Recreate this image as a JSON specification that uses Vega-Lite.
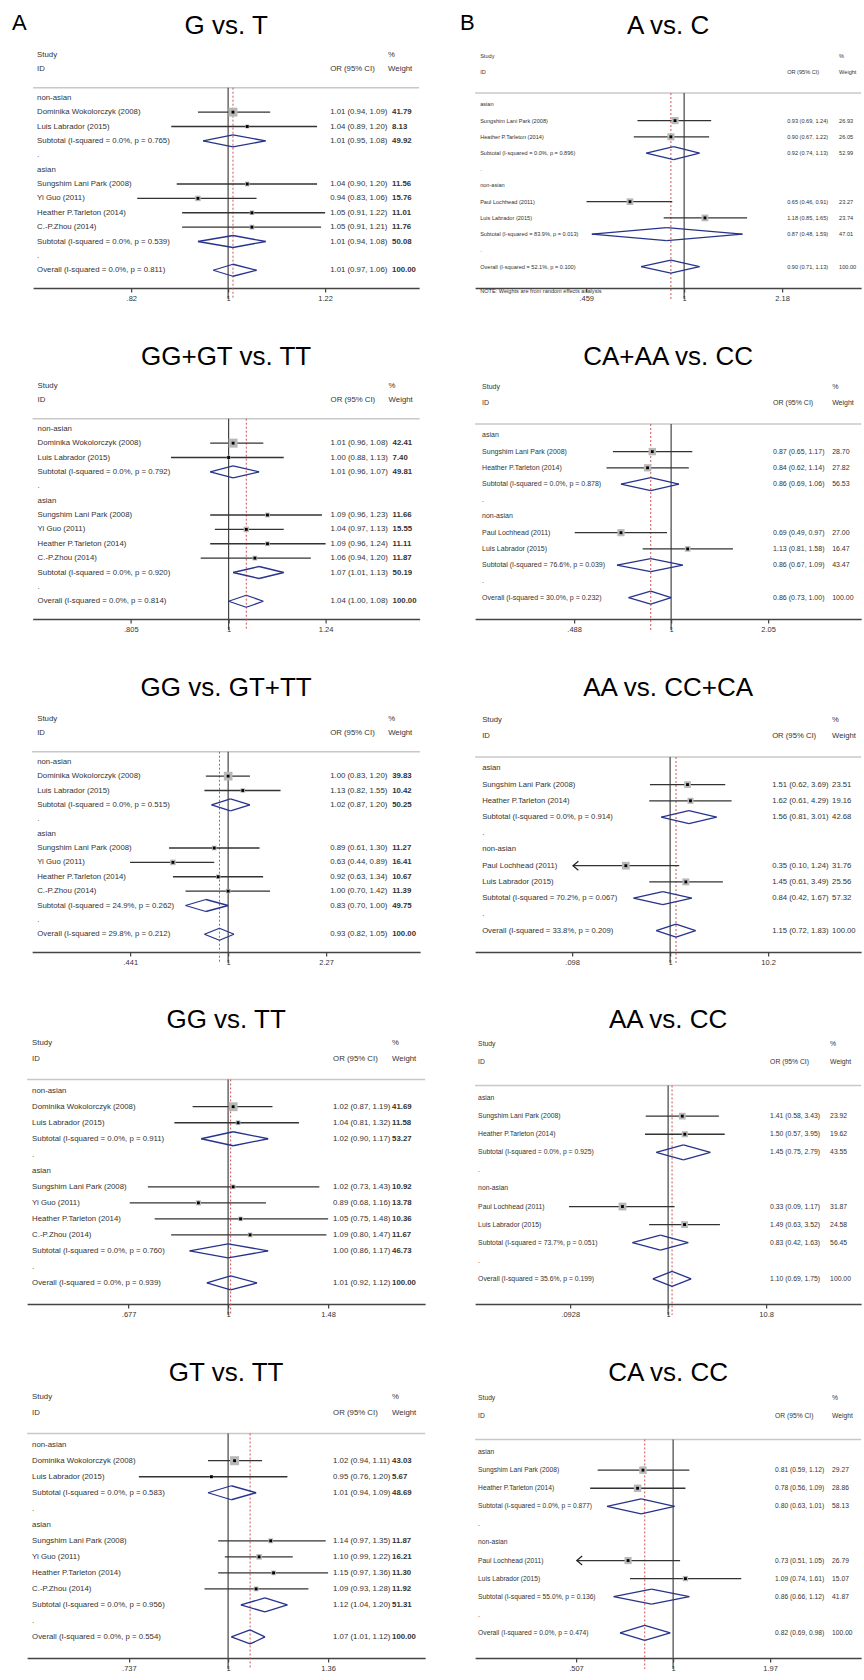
{
"$schema":"https://vega.github.io/schema/vega-lite/v6.json",
"padding":{"left":12,"top":11,"right":0,"bottom":0},
"background":"white",
"datasets":{"d":[
{"p":"A1","r":-2,"n":"Study","wh":"%"},
{"p":"A1","r":-1,"n":"ID","ci":"OR (95% CI)","wh":"Weight"},
{"p":"A1","r":1,"n":"non-asian"},
{"p":"A1","r":2,"t":"s","n":"Dominika Wokolorczyk (2008)","or":1.01,"lo":0.94,"hi":1.09,"w":41.79,"ci":"1.01 (0.94, 1.09)"},
{"p":"A1","r":3,"t":"s","n":"Luis Labrador (2015)","or":1.04,"lo":0.89,"hi":1.20,"w":8.13,"ci":"1.04 (0.89, 1.20)"},
{"p":"A1","r":4,"t":"d","n":"Subtotal  (I-squared = 0.0%, p = 0.765)","or":1.01,"lo":0.95,"hi":1.08,"w":49.92,"ci":"1.01 (0.95, 1.08)"},
{"p":"A1","r":5,"n":"."},
{"p":"A1","r":6,"n":"asian"},
{"p":"A1","r":7,"t":"s","n":"Sungshim Lani Park (2008)","or":1.04,"lo":0.90,"hi":1.20,"w":11.56,"ci":"1.04 (0.90, 1.20)"},
{"p":"A1","r":8,"t":"s","n":"Yi Guo (2011)","or":0.94,"lo":0.83,"hi":1.06,"w":15.76,"ci":"0.94 (0.83, 1.06)"},
{"p":"A1","r":9,"t":"s","n":"Heather P.Tarleton (2014)","or":1.05,"lo":0.91,"hi":1.22,"w":11.01,"ci":"1.05 (0.91, 1.22)"},
{"p":"A1","r":10,"t":"s","n":"C.-P.Zhou (2014)","or":1.05,"lo":0.91,"hi":1.21,"w":11.76,"ci":"1.05 (0.91, 1.21)"},
{"p":"A1","r":11,"t":"d","n":"Subtotal  (I-squared = 0.0%, p = 0.539)","or":1.01,"lo":0.94,"hi":1.08,"w":50.08,"ci":"1.01 (0.94, 1.08)"},
{"p":"A1","r":12,"n":"."},
{"p":"A1","r":13,"t":"o","n":"Overall  (I-squared = 0.0%, p = 0.811)","or":1.01,"lo":0.97,"hi":1.06,"w":100,"ci":"1.01 (0.97, 1.06)"},

{"p":"A2","r":-2,"n":"Study","wh":"%"},
{"p":"A2","r":-1,"n":"ID","ci":"OR (95% CI)","wh":"Weight"},
{"p":"A2","r":1,"n":"non-asian"},
{"p":"A2","r":2,"t":"s","n":"Dominika Wokolorczyk (2008)","or":1.01,"lo":0.96,"hi":1.08,"w":42.41,"ci":"1.01 (0.96, 1.08)"},
{"p":"A2","r":3,"t":"s","n":"Luis Labrador (2015)","or":1.00,"lo":0.88,"hi":1.13,"w":7.40,"ci":"1.00 (0.88, 1.13)"},
{"p":"A2","r":4,"t":"d","n":"Subtotal  (I-squared = 0.0%, p = 0.792)","or":1.01,"lo":0.96,"hi":1.07,"w":49.81,"ci":"1.01 (0.96, 1.07)"},
{"p":"A2","r":5,"n":"."},
{"p":"A2","r":6,"n":"asian"},
{"p":"A2","r":7,"t":"s","n":"Sungshim Lani Park (2008)","or":1.09,"lo":0.96,"hi":1.23,"w":11.66,"ci":"1.09 (0.96, 1.23)"},
{"p":"A2","r":8,"t":"s","n":"Yi Guo (2011)","or":1.04,"lo":0.97,"hi":1.13,"w":15.55,"ci":"1.04 (0.97, 1.13)"},
{"p":"A2","r":9,"t":"s","n":"Heather P.Tarleton (2014)","or":1.09,"lo":0.96,"hi":1.24,"w":11.11,"ci":"1.09 (0.96, 1.24)"},
{"p":"A2","r":10,"t":"s","n":"C.-P.Zhou (2014)","or":1.06,"lo":0.94,"hi":1.20,"w":11.87,"ci":"1.06 (0.94, 1.20)"},
{"p":"A2","r":11,"t":"d","n":"Subtotal  (I-squared = 0.0%, p = 0.920)","or":1.07,"lo":1.01,"hi":1.13,"w":50.19,"ci":"1.07 (1.01, 1.13)"},
{"p":"A2","r":12,"n":"."},
{"p":"A2","r":13,"t":"o","n":"Overall  (I-squared = 0.0%, p = 0.814)","or":1.04,"lo":1.00,"hi":1.08,"w":100,"ci":"1.04 (1.00, 1.08)"},

{"p":"A3","r":-2,"n":"Study","wh":"%"},
{"p":"A3","r":-1,"n":"ID","ci":"OR (95% CI)","wh":"Weight"},
{"p":"A3","r":1,"n":"non-asian"},
{"p":"A3","r":2,"t":"s","n":"Dominika Wokolorczyk (2008)","or":1.00,"lo":0.83,"hi":1.20,"w":39.83,"ci":"1.00 (0.83, 1.20)"},
{"p":"A3","r":3,"t":"s","n":"Luis Labrador (2015)","or":1.13,"lo":0.82,"hi":1.55,"w":10.42,"ci":"1.13 (0.82, 1.55)"},
{"p":"A3","r":4,"t":"d","n":"Subtotal  (I-squared = 0.0%, p = 0.515)","or":1.02,"lo":0.87,"hi":1.20,"w":50.25,"ci":"1.02 (0.87, 1.20)"},
{"p":"A3","r":5,"n":"."},
{"p":"A3","r":6,"n":"asian"},
{"p":"A3","r":7,"t":"s","n":"Sungshim Lani Park (2008)","or":0.89,"lo":0.61,"hi":1.30,"w":11.27,"ci":"0.89 (0.61, 1.30)"},
{"p":"A3","r":8,"t":"s","n":"Yi Guo (2011)","or":0.63,"lo":0.44,"hi":0.89,"w":16.41,"ci":"0.63 (0.44, 0.89)"},
{"p":"A3","r":9,"t":"s","n":"Heather P.Tarleton (2014)","or":0.92,"lo":0.63,"hi":1.34,"w":10.67,"ci":"0.92 (0.63, 1.34)"},
{"p":"A3","r":10,"t":"s","n":"C.-P.Zhou (2014)","or":1.00,"lo":0.70,"hi":1.42,"w":11.39,"ci":"1.00 (0.70, 1.42)"},
{"p":"A3","r":11,"t":"d","n":"Subtotal  (I-squared = 24.9%, p = 0.262)","or":0.83,"lo":0.70,"hi":1.00,"w":49.75,"ci":"0.83 (0.70, 1.00)"},
{"p":"A3","r":12,"n":"."},
{"p":"A3","r":13,"t":"o","n":"Overall  (I-squared = 29.8%, p = 0.212)","or":0.93,"lo":0.82,"hi":1.05,"w":100,"ci":"0.93 (0.82, 1.05)"},

{"p":"A4","r":-2,"n":"Study","wh":"%"},
{"p":"A4","r":-1,"n":"ID","ci":"OR (95% CI)","wh":"Weight"},
{"p":"A4","r":1,"n":"non-asian"},
{"p":"A4","r":2,"t":"s","n":"Dominika Wokolorczyk (2008)","or":1.02,"lo":0.87,"hi":1.19,"w":41.69,"ci":"1.02 (0.87, 1.19)"},
{"p":"A4","r":3,"t":"s","n":"Luis Labrador (2015)","or":1.04,"lo":0.81,"hi":1.32,"w":11.58,"ci":"1.04 (0.81, 1.32)"},
{"p":"A4","r":4,"t":"d","n":"Subtotal  (I-squared = 0.0%, p = 0.911)","or":1.02,"lo":0.90,"hi":1.17,"w":53.27,"ci":"1.02 (0.90, 1.17)"},
{"p":"A4","r":5,"n":"."},
{"p":"A4","r":6,"n":"asian"},
{"p":"A4","r":7,"t":"s","n":"Sungshim Lani Park (2008)","or":1.02,"lo":0.73,"hi":1.43,"w":10.92,"ci":"1.02 (0.73, 1.43)"},
{"p":"A4","r":8,"t":"s","n":"Yi Guo (2011)","or":0.89,"lo":0.68,"hi":1.16,"w":13.78,"ci":"0.89 (0.68, 1.16)"},
{"p":"A4","r":9,"t":"s","n":"Heather P.Tarleton (2014)","or":1.05,"lo":0.75,"hi":1.48,"w":10.36,"ci":"1.05 (0.75, 1.48)"},
{"p":"A4","r":10,"t":"s","n":"C.-P.Zhou (2014)","or":1.09,"lo":0.80,"hi":1.47,"w":11.67,"ci":"1.09 (0.80, 1.47)"},
{"p":"A4","r":11,"t":"d","n":"Subtotal  (I-squared = 0.0%, p = 0.760)","or":1.00,"lo":0.86,"hi":1.17,"w":46.73,"ci":"1.00 (0.86, 1.17)"},
{"p":"A4","r":12,"n":"."},
{"p":"A4","r":13,"t":"o","n":"Overall  (I-squared = 0.0%, p = 0.939)","or":1.01,"lo":0.92,"hi":1.12,"w":100,"ci":"1.01 (0.92, 1.12)"},

{"p":"A5","r":-2,"n":"Study","wh":"%"},
{"p":"A5","r":-1,"n":"ID","ci":"OR (95% CI)","wh":"Weight"},
{"p":"A5","r":1,"n":"non-asian"},
{"p":"A5","r":2,"t":"s","n":"Dominika Wokolorczyk (2008)","or":1.02,"lo":0.94,"hi":1.11,"w":43.03,"ci":"1.02 (0.94, 1.11)"},
{"p":"A5","r":3,"t":"s","n":"Luis Labrador (2015)","or":0.95,"lo":0.76,"hi":1.20,"w":5.67,"ci":"0.95 (0.76, 1.20)"},
{"p":"A5","r":4,"t":"d","n":"Subtotal  (I-squared = 0.0%, p = 0.583)","or":1.01,"lo":0.94,"hi":1.09,"w":48.69,"ci":"1.01 (0.94, 1.09)"},
{"p":"A5","r":5,"n":"."},
{"p":"A5","r":6,"n":"asian"},
{"p":"A5","r":7,"t":"s","n":"Sungshim Lani Park (2008)","or":1.14,"lo":0.97,"hi":1.35,"w":11.87,"ci":"1.14 (0.97, 1.35)"},
{"p":"A5","r":8,"t":"s","n":"Yi Guo (2011)","or":1.10,"lo":0.99,"hi":1.22,"w":16.21,"ci":"1.10 (0.99, 1.22)"},
{"p":"A5","r":9,"t":"s","n":"Heather P.Tarleton (2014)","or":1.15,"lo":0.97,"hi":1.36,"w":11.30,"ci":"1.15 (0.97, 1.36)"},
{"p":"A5","r":10,"t":"s","n":"C.-P.Zhou (2014)","or":1.09,"lo":0.93,"hi":1.28,"w":11.92,"ci":"1.09 (0.93, 1.28)"},
{"p":"A5","r":11,"t":"d","n":"Subtotal  (I-squared = 0.0%, p = 0.956)","or":1.12,"lo":1.04,"hi":1.20,"w":51.31,"ci":"1.12 (1.04, 1.20)"},
{"p":"A5","r":12,"n":"."},
{"p":"A5","r":13,"t":"o","n":"Overall  (I-squared = 0.0%, p = 0.554)","or":1.07,"lo":1.01,"hi":1.12,"w":100,"ci":"1.07 (1.01, 1.12)"},

{"p":"B1","r":-2,"n":"Study","wh":"%"},
{"p":"B1","r":-1,"n":"ID","ci":"OR (95% CI)","wh":"Weight"},
{"p":"B1","r":1,"n":"asian"},
{"p":"B1","r":2,"t":"s","n":"Sungshim Lani Park  (2008)","or":0.93,"lo":0.69,"hi":1.24,"w":26.93,"ci":"0.93 (0.69, 1.24)"},
{"p":"B1","r":3,"t":"s","n":"Heather P.Tarleton (2014)","or":0.90,"lo":0.67,"hi":1.22,"w":26.05,"ci":"0.90 (0.67, 1.22)"},
{"p":"B1","r":4,"t":"d","n":"Subtotal  (I-squared = 0.0%, p = 0.896)","or":0.92,"lo":0.74,"hi":1.13,"w":52.99,"ci":"0.92 (0.74, 1.13)"},
{"p":"B1","r":5,"n":"."},
{"p":"B1","r":6,"n":"non-asian"},
{"p":"B1","r":7,"t":"s","n":"Paul Lochhead (2011)","or":0.65,"lo":0.46,"hi":0.91,"w":23.27,"ci":"0.65 (0.46, 0.91)"},
{"p":"B1","r":8,"t":"s","n":"Luis Labrador (2015)","or":1.18,"lo":0.85,"hi":1.65,"w":23.74,"ci":"1.18 (0.85, 1.65)"},
{"p":"B1","r":9,"t":"d","n":"Subtotal  (I-squared = 83.9%, p = 0.013)","or":0.87,"lo":0.48,"hi":1.59,"w":47.01,"ci":"0.87 (0.48, 1.59)"},
{"p":"B1","r":10,"n":"."},
{"p":"B1","r":11,"t":"o","n":"Overall  (I-squared = 52.1%, p = 0.100)","or":0.90,"lo":0.71,"hi":1.13,"w":100,"ci":"0.90 (0.71, 1.13)"},
{"p":"B1","r":12.5,"n":"NOTE: Weights are from random effects analysis"},

{"p":"B2","r":-2,"n":"Study","wh":"%"},
{"p":"B2","r":-1,"n":"ID","ci":"OR (95% CI)","wh":"Weight"},
{"p":"B2","r":1,"n":"asian"},
{"p":"B2","r":2,"t":"s","n":"Sungshim Lani Park  (2008)","or":0.87,"lo":0.65,"hi":1.17,"w":28.70,"ci":"0.87 (0.65, 1.17)"},
{"p":"B2","r":3,"t":"s","n":"Heather P.Tarleton (2014)","or":0.84,"lo":0.62,"hi":1.14,"w":27.82,"ci":"0.84 (0.62, 1.14)"},
{"p":"B2","r":4,"t":"d","n":"Subtotal  (I-squared = 0.0%, p = 0.878)","or":0.86,"lo":0.69,"hi":1.06,"w":56.53,"ci":"0.86 (0.69, 1.06)"},
{"p":"B2","r":5,"n":"."},
{"p":"B2","r":6,"n":"non-asian"},
{"p":"B2","r":7,"t":"s","n":"Paul Lochhead (2011)","or":0.69,"lo":0.49,"hi":0.97,"w":27.00,"ci":"0.69 (0.49, 0.97)"},
{"p":"B2","r":8,"t":"s","n":"Luis Labrador (2015)","or":1.13,"lo":0.81,"hi":1.58,"w":16.47,"ci":"1.13 (0.81, 1.58)"},
{"p":"B2","r":9,"t":"d","n":"Subtotal  (I-squared = 76.6%, p = 0.039)","or":0.86,"lo":0.67,"hi":1.09,"w":43.47,"ci":"0.86 (0.67, 1.09)"},
{"p":"B2","r":10,"n":"."},
{"p":"B2","r":11,"t":"o","n":"Overall  (I-squared = 30.0%, p = 0.232)","or":0.86,"lo":0.73,"hi":1.00,"w":100,"ci":"0.86 (0.73, 1.00)"},

{"p":"B3","r":-2,"n":"Study","wh":"%"},
{"p":"B3","r":-1,"n":"ID","ci":"OR (95% CI)","wh":"Weight"},
{"p":"B3","r":1,"n":"asian"},
{"p":"B3","r":2,"t":"s","n":"Sungshim Lani Park  (2008)","or":1.51,"lo":0.62,"hi":3.69,"w":23.51,"ci":"1.51 (0.62, 3.69)"},
{"p":"B3","r":3,"t":"s","n":"Heather P.Tarleton (2014)","or":1.62,"lo":0.61,"hi":4.29,"w":19.16,"ci":"1.62 (0.61, 4.29)"},
{"p":"B3","r":4,"t":"d","n":"Subtotal  (I-squared = 0.0%, p = 0.914)","or":1.56,"lo":0.81,"hi":3.01,"w":42.68,"ci":"1.56 (0.81, 3.01)"},
{"p":"B3","r":5,"n":"."},
{"p":"B3","r":6,"n":"non-asian"},
{"p":"B3","r":7,"t":"s","n":"Paul Lochhead (2011)","or":0.35,"lo":0.10,"hi":1.24,"w":31.76,"ci":"0.35 (0.10, 1.24)"},
{"p":"B3","r":8,"t":"s","n":"Luis Labrador (2015)","or":1.45,"lo":0.61,"hi":3.49,"w":25.56,"ci":"1.45 (0.61, 3.49)"},
{"p":"B3","r":9,"t":"d","n":"Subtotal  (I-squared = 70.2%, p = 0.067)","or":0.84,"lo":0.42,"hi":1.67,"w":57.32,"ci":"0.84 (0.42, 1.67)"},
{"p":"B3","r":10,"n":"."},
{"p":"B3","r":11,"t":"o","n":"Overall  (I-squared = 33.8%, p = 0.209)","or":1.15,"lo":0.72,"hi":1.83,"w":100,"ci":"1.15 (0.72, 1.83)"},

{"p":"B4","r":-2,"n":"Study","wh":"%"},
{"p":"B4","r":-1,"n":"ID","ci":"OR (95% CI)","wh":"Weight"},
{"p":"B4","r":1,"n":"asian"},
{"p":"B4","r":2,"t":"s","n":"Sungshim Lani Park  (2008)","or":1.41,"lo":0.58,"hi":3.43,"w":23.92,"ci":"1.41 (0.58, 3.43)"},
{"p":"B4","r":3,"t":"s","n":"Heather P.Tarleton (2014)","or":1.50,"lo":0.57,"hi":3.95,"w":19.62,"ci":"1.50 (0.57, 3.95)"},
{"p":"B4","r":4,"t":"d","n":"Subtotal  (I-squared = 0.0%, p = 0.925)","or":1.45,"lo":0.75,"hi":2.79,"w":43.55,"ci":"1.45 (0.75, 2.79)"},
{"p":"B4","r":5,"n":"."},
{"p":"B4","r":6,"n":"non-asian"},
{"p":"B4","r":7,"t":"s","n":"Paul Lochhead (2011)","or":0.33,"lo":0.09,"hi":1.17,"w":31.87,"ci":"0.33 (0.09, 1.17)"},
{"p":"B4","r":8,"t":"s","n":"Luis Labrador (2015)","or":1.49,"lo":0.63,"hi":3.52,"w":24.58,"ci":"1.49 (0.63, 3.52)"},
{"p":"B4","r":9,"t":"d","n":"Subtotal  (I-squared = 73.7%, p = 0.051)","or":0.83,"lo":0.42,"hi":1.63,"w":56.45,"ci":"0.83 (0.42, 1.63)"},
{"p":"B4","r":10,"n":"."},
{"p":"B4","r":11,"t":"o","n":"Overall  (I-squared = 35.6%, p = 0.199)","or":1.10,"lo":0.69,"hi":1.75,"w":100,"ci":"1.10 (0.69, 1.75)"},

{"p":"B5","r":-2,"n":"Study","wh":"%"},
{"p":"B5","r":-1,"n":"ID","ci":"OR (95% CI)","wh":"Weight"},
{"p":"B5","r":1,"n":"asian"},
{"p":"B5","r":2,"t":"s","n":"Sungshim Lani Park  (2008)","or":0.81,"lo":0.59,"hi":1.12,"w":29.27,"ci":"0.81 (0.59, 1.12)"},
{"p":"B5","r":3,"t":"s","n":"Heather P.Tarleton (2014)","or":0.78,"lo":0.56,"hi":1.09,"w":28.86,"ci":"0.78 (0.56, 1.09)"},
{"p":"B5","r":4,"t":"d","n":"Subtotal  (I-squared = 0.0%, p = 0.877)","or":0.80,"lo":0.63,"hi":1.01,"w":58.13,"ci":"0.80 (0.63, 1.01)"},
{"p":"B5","r":5,"n":"."},
{"p":"B5","r":6,"n":"non-asian"},
{"p":"B5","r":7,"t":"s","n":"Paul Lochhead (2011)","or":0.73,"lo":0.51,"hi":1.05,"w":26.79,"ci":"0.73 (0.51, 1.05)"},
{"p":"B5","r":8,"t":"s","n":"Luis Labrador (2015)","or":1.09,"lo":0.74,"hi":1.61,"w":15.07,"ci":"1.09 (0.74, 1.61)"},
{"p":"B5","r":9,"t":"d","n":"Subtotal  (I-squared = 55.0%, p = 0.136)","or":0.86,"lo":0.66,"hi":1.12,"w":41.87,"ci":"0.86 (0.66, 1.12)"},
{"p":"B5","r":10,"n":"."},
{"p":"B5","r":11,"t":"o","n":"Overall  (I-squared = 0.0%, p = 0.474)","or":0.82,"lo":0.69,"hi":0.98,"w":100,"ci":"0.82 (0.69, 0.98)"}
]},
"data":{"name":"d"},
"spacing":34,
"hconcat":[
{"title":{"text":"A","orient":"left","anchor":"end","angle":0,"fontSize":22,"offset":-15,"align":"right","baseline":"top"},
 "center":true,"spacing":41,
 "vconcat":[
 {"title":{"text":"G vs. T","offset":7.5},"width":386,"height":253,
  "transform":[{"filter":"datum.p=='A1'"}],
  "encoding":{"y":{"field":"r","type":"quantitative","scale":{"domain":[-2.6,15],"reverse":true},"axis":null}},
  "layer":[
   {"transform":[{"filter":"datum.t=='o'"}],"mark":{"type":"rule","color":"#c8c8c8","strokeWidth":1.5},"encoding":{"y":{"datum":0.3}}},
   {"transform":[{"filter":"datum.t=='o'"}],"mark":{"type":"rule","color":"#444","strokeWidth":1.2},"encoding":{"x":{"datum":1,"type":"quantitative","scale":{"type":"log","domain":[0.6705,1.4793]},"axis":{"offset":-11,"values":[0.82,1,1.22],"title":null,"labelExpr":"datum.value<1?substring(toString(datum.value),1):toString(datum.value)"}},"y":{"datum":0.3},"y2":{"datum":15}}},
   {"transform":[{"filter":"datum.t=='o'"}],"mark":{"type":"rule","color":"#cc5555","strokeWidth":1,"strokeDash":[2,2]},"encoding":{"x":{"field":"or","type":"quantitative","scale":{"type":"log","domain":[0.6705,1.4793]}},"y":{"datum":0.3},"y2":{"datum":15}}},
   {"transform":[{"filter":"datum.t=='s'"}],"mark":{"type":"rule","color":"#333","strokeWidth":1.3},"encoding":{"x":{"field":"lo","type":"quantitative","scale":{"type":"log","domain":[0.6705,1.4793]}},"x2":{"field":"hi"}}},
   {"transform":[{"filter":"datum.t=='s'"}],"mark":{"type":"point","shape":"square","filled":true,"color":"#b8b8b8","opacity":1},"encoding":{"x":{"field":"or","type":"quantitative","scale":{"type":"log","domain":[0.6705,1.4793]}},"size":{"field":"w","type":"quantitative","scale":{"domain":[0,100],"range":[0,190]},"legend":null}}},
   {"transform":[{"filter":"datum.t=='s'"}],"mark":{"type":"point","shape":"square","filled":true,"color":"#000","size":8,"opacity":1},"encoding":{"x":{"field":"or","type":"quantitative","scale":{"type":"log","domain":[0.6705,1.4793]}}}},
   {"transform":[{"filter":"datum.t=='d'||datum.t=='o'"}],"mark":{"type":"rule","color":"#27338c","strokeWidth":1.3,"y2Offset":-6},"encoding":{"x":{"field":"lo","type":"quantitative","scale":{"type":"log","domain":[0.6705,1.4793]}},"x2":{"field":"or"},"y2":{"field":"r"}}},
   {"transform":[{"filter":"datum.t=='d'||datum.t=='o'"}],"mark":{"type":"rule","color":"#27338c","strokeWidth":1.3,"yOffset":-6},"encoding":{"x":{"field":"or","type":"quantitative","scale":{"type":"log","domain":[0.6705,1.4793]}},"x2":{"field":"hi"},"y2":{"field":"r"}}},
   {"transform":[{"filter":"datum.t=='d'||datum.t=='o'"}],"mark":{"type":"rule","color":"#27338c","strokeWidth":1.3,"y2Offset":6},"encoding":{"x":{"field":"lo","type":"quantitative","scale":{"type":"log","domain":[0.6705,1.4793]}},"x2":{"field":"or"},"y2":{"field":"r"}}},
   {"transform":[{"filter":"datum.t=='d'||datum.t=='o'"}],"mark":{"type":"rule","color":"#27338c","strokeWidth":1.3,"yOffset":6},"encoding":{"x":{"field":"or","type":"quantitative","scale":{"type":"log","domain":[0.6705,1.4793]}},"x2":{"field":"hi"},"y2":{"field":"r"}}},
   {"transform":[{"filter":"isValid(datum.n)"}],"mark":{"type":"text","align":"left","fontSize":7.8},"encoding":{"x":{"datum":0.676,"type":"quantitative","scale":{"type":"log","domain":[0.6705,1.4793]}},"text":{"field":"n"}}},
   {"transform":[{"filter":"isValid(datum.ci)"}],"mark":{"type":"text","align":"left","fontSize":7.8},"encoding":{"x":{"datum":1.2326,"type":"quantitative","scale":{"type":"log","domain":[0.6705,1.4793]}},"text":{"field":"ci"}}},
   {"transform":[{"filter":"isValid(datum.wh)"}],"mark":{"type":"text","align":"left","fontSize":7.8},"encoding":{"x":{"datum":1.3882,"type":"quantitative","scale":{"type":"log","domain":[0.6705,1.4793]}},"text":{"field":"wh"}}},
   {"transform":[{"filter":"isValid(datum.w)"}],"mark":{"type":"text","align":"left","fontSize":7.8,"fontWeight":"bold"},"encoding":{"x":{"datum":1.3996,"type":"quantitative","scale":{"type":"log","domain":[0.6705,1.4793]}},"text":{"field":"w","type":"quantitative","format":".2f"}}}
  ]},
 {"title":{"text":"GG+GT vs. TT","offset":7.5},"width":387,"height":253,
  "transform":[{"filter":"datum.p=='A2'"}],
  "encoding":{"y":{"field":"r","type":"quantitative","scale":{"domain":[-2.6,15],"reverse":true},"axis":null}},
  "layer":[
   {"transform":[{"filter":"datum.t=='o'"}],"mark":{"type":"rule","color":"#c8c8c8","strokeWidth":1.5},"encoding":{"y":{"datum":0.3}}},
   {"transform":[{"filter":"datum.t=='o'"}],"mark":{"type":"rule","color":"#444","strokeWidth":1.2},"encoding":{"x":{"datum":1,"type":"quantitative","scale":{"type":"log","domain":[0.6475,1.5275]},"axis":{"offset":-11,"values":[0.805,1,1.24],"title":null,"labelExpr":"datum.value<1?substring(toString(datum.value),1):toString(datum.value)"}},"y":{"datum":0.3},"y2":{"datum":15}}},
   {"transform":[{"filter":"datum.t=='o'"}],"mark":{"type":"rule","color":"#cc5555","strokeWidth":1,"strokeDash":[2,2]},"encoding":{"x":{"field":"or","type":"quantitative","scale":{"type":"log","domain":[0.6475,1.5275]}},"y":{"datum":0.3},"y2":{"datum":15}}},
   {"transform":[{"filter":"datum.t=='s'"}],"mark":{"type":"rule","color":"#333","strokeWidth":1.3},"encoding":{"x":{"field":"lo","type":"quantitative","scale":{"type":"log","domain":[0.6475,1.5275]}},"x2":{"field":"hi"}}},
   {"transform":[{"filter":"datum.t=='s'"}],"mark":{"type":"point","shape":"square","filled":true,"color":"#b8b8b8","opacity":1},"encoding":{"x":{"field":"or","type":"quantitative","scale":{"type":"log","domain":[0.6475,1.5275]}},"size":{"field":"w","type":"quantitative","scale":{"domain":[0,100],"range":[0,190]},"legend":null}}},
   {"transform":[{"filter":"datum.t=='s'"}],"mark":{"type":"point","shape":"square","filled":true,"color":"#000","size":8,"opacity":1},"encoding":{"x":{"field":"or","type":"quantitative","scale":{"type":"log","domain":[0.6475,1.5275]}}}},
   {"transform":[{"filter":"datum.t=='d'||datum.t=='o'"}],"mark":{"type":"rule","color":"#27338c","strokeWidth":1.3,"y2Offset":-6},"encoding":{"x":{"field":"lo","type":"quantitative","scale":{"type":"log","domain":[0.6475,1.5275]}},"x2":{"field":"or"},"y2":{"field":"r"}}},
   {"transform":[{"filter":"datum.t=='d'||datum.t=='o'"}],"mark":{"type":"rule","color":"#27338c","strokeWidth":1.3,"yOffset":-6},"encoding":{"x":{"field":"or","type":"quantitative","scale":{"type":"log","domain":[0.6475,1.5275]}},"x2":{"field":"hi"},"y2":{"field":"r"}}},
   {"transform":[{"filter":"datum.t=='d'||datum.t=='o'"}],"mark":{"type":"rule","color":"#27338c","strokeWidth":1.3,"y2Offset":6},"encoding":{"x":{"field":"lo","type":"quantitative","scale":{"type":"log","domain":[0.6475,1.5275]}},"x2":{"field":"or"},"y2":{"field":"r"}}},
   {"transform":[{"filter":"datum.t=='d'||datum.t=='o'"}],"mark":{"type":"rule","color":"#27338c","strokeWidth":1.3,"yOffset":6},"encoding":{"x":{"field":"or","type":"quantitative","scale":{"type":"log","domain":[0.6475,1.5275]}},"x2":{"field":"hi"},"y2":{"field":"r"}}},
   {"transform":[{"filter":"isValid(datum.n)"}],"mark":{"type":"text","align":"left","fontSize":7.8},"encoding":{"x":{"datum":0.6547,"type":"quantitative","scale":{"type":"log","domain":[0.6475,1.5275]}},"text":{"field":"n"}}},
   {"transform":[{"filter":"isValid(datum.ci)"}],"mark":{"type":"text","align":"left","fontSize":7.8},"encoding":{"x":{"datum":1.2538,"type":"quantitative","scale":{"type":"log","domain":[0.6475,1.5275]}},"text":{"field":"ci"}}},
   {"transform":[{"filter":"isValid(datum.wh)"}],"mark":{"type":"text","align":"left","fontSize":7.8},"encoding":{"x":{"datum":1.4259,"type":"quantitative","scale":{"type":"log","domain":[0.6475,1.5275]}},"text":{"field":"wh"}}},
   {"transform":[{"filter":"isValid(datum.w)"}],"mark":{"type":"text","align":"left","fontSize":7.8,"fontWeight":"bold"},"encoding":{"x":{"datum":1.4387,"type":"quantitative","scale":{"type":"log","domain":[0.6475,1.5275]}},"text":{"field":"w","type":"quantitative","format":".2f"}}}
  ]},
 {"title":{"text":"GG vs. GT+TT","offset":9.5},"width":388,"height":253,
  "transform":[{"filter":"datum.p=='A3'"}],
  "encoding":{"y":{"field":"r","type":"quantitative","scale":{"domain":[-2.6,15],"reverse":true},"axis":null}},
  "layer":[
   {"transform":[{"filter":"datum.t=='o'"}],"mark":{"type":"rule","color":"#c8c8c8","strokeWidth":1.5},"encoding":{"y":{"datum":0.3}}},
   {"transform":[{"filter":"datum.t=='o'"}],"mark":{"type":"rule","color":"#444","strokeWidth":1.2},"encoding":{"x":{"datum":1,"type":"quantitative","scale":{"type":"log","domain":[0.194,4.983]},"axis":{"offset":-11,"values":[0.441,1,2.27],"title":null,"labelExpr":"datum.value<1?substring(toString(datum.value),1):toString(datum.value)"}},"y":{"datum":0.3},"y2":{"datum":15}}},
   {"transform":[{"filter":"datum.t=='o'"}],"mark":{"type":"rule","color":"#cc5555","strokeWidth":1,"strokeDash":[2,2]},"encoding":{"x":{"field":"or","type":"quantitative","scale":{"type":"log","domain":[0.194,4.983]}},"y":{"datum":0.3},"y2":{"datum":15}}},
   {"transform":[{"filter":"datum.t=='s'"}],"mark":{"type":"rule","color":"#333","strokeWidth":1.3},"encoding":{"x":{"field":"lo","type":"quantitative","scale":{"type":"log","domain":[0.194,4.983]}},"x2":{"field":"hi"}}},
   {"transform":[{"filter":"datum.t=='s'"}],"mark":{"type":"point","shape":"square","filled":true,"color":"#b8b8b8","opacity":1},"encoding":{"x":{"field":"or","type":"quantitative","scale":{"type":"log","domain":[0.194,4.983]}},"size":{"field":"w","type":"quantitative","scale":{"domain":[0,100],"range":[0,190]},"legend":null}}},
   {"transform":[{"filter":"datum.t=='s'"}],"mark":{"type":"point","shape":"square","filled":true,"color":"#000","size":8,"opacity":1},"encoding":{"x":{"field":"or","type":"quantitative","scale":{"type":"log","domain":[0.194,4.983]}}}},
   {"transform":[{"filter":"datum.t=='d'||datum.t=='o'"}],"mark":{"type":"rule","color":"#27338c","strokeWidth":1.3,"y2Offset":-6},"encoding":{"x":{"field":"lo","type":"quantitative","scale":{"type":"log","domain":[0.194,4.983]}},"x2":{"field":"or"},"y2":{"field":"r"}}},
   {"transform":[{"filter":"datum.t=='d'||datum.t=='o'"}],"mark":{"type":"rule","color":"#27338c","strokeWidth":1.3,"yOffset":-6},"encoding":{"x":{"field":"or","type":"quantitative","scale":{"type":"log","domain":[0.194,4.983]}},"x2":{"field":"hi"},"y2":{"field":"r"}}},
   {"transform":[{"filter":"datum.t=='d'||datum.t=='o'"}],"mark":{"type":"rule","color":"#27338c","strokeWidth":1.3,"y2Offset":6},"encoding":{"x":{"field":"lo","type":"quantitative","scale":{"type":"log","domain":[0.194,4.983]}},"x2":{"field":"or"},"y2":{"field":"r"}}},
   {"transform":[{"filter":"datum.t=='d'||datum.t=='o'"}],"mark":{"type":"rule","color":"#27338c","strokeWidth":1.3,"yOffset":6},"encoding":{"x":{"field":"or","type":"quantitative","scale":{"type":"log","domain":[0.194,4.983]}},"x2":{"field":"hi"},"y2":{"field":"r"}}},
   {"transform":[{"filter":"isValid(datum.n)"}],"mark":{"type":"text","align":"left","fontSize":7.8},"encoding":{"x":{"datum":0.2024,"type":"quantitative","scale":{"type":"log","domain":[0.194,4.983]}},"text":{"field":"n"}}},
   {"transform":[{"filter":"isValid(datum.ci)"}],"mark":{"type":"text","align":"left","fontSize":7.8},"encoding":{"x":{"datum":2.3471,"type":"quantitative","scale":{"type":"log","domain":[0.194,4.983]}},"text":{"field":"ci"}}},
   {"transform":[{"filter":"isValid(datum.wh)"}],"mark":{"type":"text","align":"left","fontSize":7.8},"encoding":{"x":{"datum":3.8129,"type":"quantitative","scale":{"type":"log","domain":[0.194,4.983]}},"text":{"field":"wh"}}},
   {"transform":[{"filter":"isValid(datum.w)"}],"mark":{"type":"text","align":"left","fontSize":7.8,"fontWeight":"bold"},"encoding":{"x":{"datum":3.9427,"type":"quantitative","scale":{"type":"log","domain":[0.194,4.983]}},"text":{"field":"w","type":"quantitative","format":".2f"}}}
  ]},
 {"title":{"text":"GG vs. TT","offset":0},"width":398,"height":282,
  "transform":[{"filter":"datum.p=='A4'"}],
  "encoding":{"y":{"field":"r","type":"quantitative","scale":{"domain":[-2.6,15],"reverse":true},"axis":null}},
  "layer":[
   {"transform":[{"filter":"datum.t=='o'"}],"mark":{"type":"rule","color":"#c8c8c8","strokeWidth":1.5},"encoding":{"y":{"datum":0.3}}},
   {"transform":[{"filter":"datum.t=='o'"}],"mark":{"type":"rule","color":"#444","strokeWidth":1.2},"encoding":{"x":{"datum":1,"type":"quantitative","scale":{"type":"log","domain":[0.4548,2.1648]},"axis":{"offset":-11,"values":[0.677,1,1.48],"title":null,"labelExpr":"datum.value<1?substring(toString(datum.value),1):toString(datum.value)"}},"y":{"datum":0.3},"y2":{"datum":15}}},
   {"transform":[{"filter":"datum.t=='o'"}],"mark":{"type":"rule","color":"#cc5555","strokeWidth":1,"strokeDash":[2,2]},"encoding":{"x":{"field":"or","type":"quantitative","scale":{"type":"log","domain":[0.4548,2.1648]}},"y":{"datum":0.3},"y2":{"datum":15}}},
   {"transform":[{"filter":"datum.t=='s'"}],"mark":{"type":"rule","color":"#333","strokeWidth":1.3},"encoding":{"x":{"field":"lo","type":"quantitative","scale":{"type":"log","domain":[0.4548,2.1648]}},"x2":{"field":"hi"}}},
   {"transform":[{"filter":"datum.t=='s'"}],"mark":{"type":"point","shape":"square","filled":true,"color":"#b8b8b8","opacity":1},"encoding":{"x":{"field":"or","type":"quantitative","scale":{"type":"log","domain":[0.4548,2.1648]}},"size":{"field":"w","type":"quantitative","scale":{"domain":[0,100],"range":[0,160]},"legend":null}}},
   {"transform":[{"filter":"datum.t=='s'"}],"mark":{"type":"point","shape":"square","filled":true,"color":"#000","size":8,"opacity":1},"encoding":{"x":{"field":"or","type":"quantitative","scale":{"type":"log","domain":[0.4548,2.1648]}}}},
   {"transform":[{"filter":"datum.t=='d'||datum.t=='o'"}],"mark":{"type":"rule","color":"#27338c","strokeWidth":1.3,"y2Offset":-7},"encoding":{"x":{"field":"lo","type":"quantitative","scale":{"type":"log","domain":[0.4548,2.1648]}},"x2":{"field":"or"},"y2":{"field":"r"}}},
   {"transform":[{"filter":"datum.t=='d'||datum.t=='o'"}],"mark":{"type":"rule","color":"#27338c","strokeWidth":1.3,"yOffset":-7},"encoding":{"x":{"field":"or","type":"quantitative","scale":{"type":"log","domain":[0.4548,2.1648]}},"x2":{"field":"hi"},"y2":{"field":"r"}}},
   {"transform":[{"filter":"datum.t=='d'||datum.t=='o'"}],"mark":{"type":"rule","color":"#27338c","strokeWidth":1.3,"y2Offset":7},"encoding":{"x":{"field":"lo","type":"quantitative","scale":{"type":"log","domain":[0.4548,2.1648]}},"x2":{"field":"or"},"y2":{"field":"r"}}},
   {"transform":[{"filter":"datum.t=='d'||datum.t=='o'"}],"mark":{"type":"rule","color":"#27338c","strokeWidth":1.3,"yOffset":7},"encoding":{"x":{"field":"or","type":"quantitative","scale":{"type":"log","domain":[0.4548,2.1648]}},"x2":{"field":"hi"},"y2":{"field":"r"}}},
   {"transform":[{"filter":"isValid(datum.n)"}],"mark":{"type":"text","align":"left","fontSize":7.8},"encoding":{"x":{"datum":0.4638,"type":"quantitative","scale":{"type":"log","domain":[0.4548,2.1648]}},"text":{"field":"n"}}},
   {"transform":[{"filter":"isValid(datum.ci)"}],"mark":{"type":"text","align":"left","fontSize":7.8},"encoding":{"x":{"datum":1.5092,"type":"quantitative","scale":{"type":"log","domain":[0.4548,2.1648]}},"text":{"field":"ci"}}},
   {"transform":[{"filter":"isValid(datum.wh)"}],"mark":{"type":"text","align":"left","fontSize":7.8},"encoding":{"x":{"datum":1.902,"type":"quantitative","scale":{"type":"log","domain":[0.4548,2.1648]}},"text":{"field":"wh"}}},
   {"transform":[{"filter":"isValid(datum.w)"}],"mark":{"type":"text","align":"left","fontSize":7.8,"fontWeight":"bold"},"encoding":{"x":{"datum":1.902,"type":"quantitative","scale":{"type":"log","domain":[0.4548,2.1648]}},"text":{"field":"w","type":"quantitative","format":".2f"}}}
  ]},
 {"title":{"text":"GT vs. TT","offset":1.5},"width":398,"height":282,
  "transform":[{"filter":"datum.p=='A5'"}],
  "encoding":{"y":{"field":"r","type":"quantitative","scale":{"domain":[-2.6,15],"reverse":true},"axis":null}},
  "layer":[
   {"transform":[{"filter":"datum.t=='o'"}],"mark":{"type":"rule","color":"#c8c8c8","strokeWidth":1.5},"encoding":{"y":{"datum":0.3}}},
   {"transform":[{"filter":"datum.t=='o'"}],"mark":{"type":"rule","color":"#444","strokeWidth":1.2},"encoding":{"x":{"datum":1,"type":"quantitative","scale":{"type":"log","domain":[0.539,1.8328]},"axis":{"offset":-11,"values":[0.737,1,1.36],"title":null,"labelExpr":"datum.value<1?substring(toString(datum.value),1):toString(datum.value)"}},"y":{"datum":0.3},"y2":{"datum":15}}},
   {"transform":[{"filter":"datum.t=='o'"}],"mark":{"type":"rule","color":"#cc5555","strokeWidth":1,"strokeDash":[2,2]},"encoding":{"x":{"field":"or","type":"quantitative","scale":{"type":"log","domain":[0.539,1.8328]}},"y":{"datum":0.3},"y2":{"datum":15}}},
   {"transform":[{"filter":"datum.t=='s'"}],"mark":{"type":"rule","color":"#333","strokeWidth":1.3},"encoding":{"x":{"field":"lo","type":"quantitative","scale":{"type":"log","domain":[0.539,1.8328]}},"x2":{"field":"hi"}}},
   {"transform":[{"filter":"datum.t=='s'"}],"mark":{"type":"point","shape":"square","filled":true,"color":"#b8b8b8","opacity":1},"encoding":{"x":{"field":"or","type":"quantitative","scale":{"type":"log","domain":[0.539,1.8328]}},"size":{"field":"w","type":"quantitative","scale":{"domain":[0,100],"range":[0,190]},"legend":null}}},
   {"transform":[{"filter":"datum.t=='s'"}],"mark":{"type":"point","shape":"square","filled":true,"color":"#000","size":8,"opacity":1},"encoding":{"x":{"field":"or","type":"quantitative","scale":{"type":"log","domain":[0.539,1.8328]}}}},
   {"transform":[{"filter":"datum.t=='d'||datum.t=='o'"}],"mark":{"type":"rule","color":"#27338c","strokeWidth":1.3,"y2Offset":-7},"encoding":{"x":{"field":"lo","type":"quantitative","scale":{"type":"log","domain":[0.539,1.8328]}},"x2":{"field":"or"},"y2":{"field":"r"}}},
   {"transform":[{"filter":"datum.t=='d'||datum.t=='o'"}],"mark":{"type":"rule","color":"#27338c","strokeWidth":1.3,"yOffset":-7},"encoding":{"x":{"field":"or","type":"quantitative","scale":{"type":"log","domain":[0.539,1.8328]}},"x2":{"field":"hi"},"y2":{"field":"r"}}},
   {"transform":[{"filter":"datum.t=='d'||datum.t=='o'"}],"mark":{"type":"rule","color":"#27338c","strokeWidth":1.3,"y2Offset":7},"encoding":{"x":{"field":"lo","type":"quantitative","scale":{"type":"log","domain":[0.539,1.8328]}},"x2":{"field":"or"},"y2":{"field":"r"}}},
   {"transform":[{"filter":"datum.t=='d'||datum.t=='o'"}],"mark":{"type":"rule","color":"#27338c","strokeWidth":1.3,"yOffset":7},"encoding":{"x":{"field":"or","type":"quantitative","scale":{"type":"log","domain":[0.539,1.8328]}},"x2":{"field":"hi"},"y2":{"field":"r"}}},
   {"transform":[{"filter":"isValid(datum.n)"}],"mark":{"type":"text","align":"left","fontSize":7.8},"encoding":{"x":{"datum":0.5473,"type":"quantitative","scale":{"type":"log","domain":[0.539,1.8328]}},"text":{"field":"n"}}},
   {"transform":[{"filter":"isValid(datum.ci)"}],"mark":{"type":"text","align":"left","fontSize":7.8},"encoding":{"x":{"datum":1.3811,"type":"quantitative","scale":{"type":"log","domain":[0.539,1.8328]}},"text":{"field":"ci"}}},
   {"transform":[{"filter":"isValid(datum.wh)"}],"mark":{"type":"text","align":"left","fontSize":7.8},"encoding":{"x":{"datum":1.6558,"type":"quantitative","scale":{"type":"log","domain":[0.539,1.8328]}},"text":{"field":"wh"}}},
   {"transform":[{"filter":"isValid(datum.w)"}],"mark":{"type":"text","align":"left","fontSize":7.8,"fontWeight":"bold"},"encoding":{"x":{"datum":1.6558,"type":"quantitative","scale":{"type":"log","domain":[0.539,1.8328]}},"text":{"field":"w","type":"quantitative","format":".2f"}}}
  ]}
 ]},
{"title":{"text":"B","orient":"left","anchor":"end","angle":0,"fontSize":22,"offset":-15,"align":"right","baseline":"top"},
 "center":true,"spacing":41,
 "vconcat":[
 {"title":{"text":"A vs. C","offset":7.5},"width":386,"height":253,
  "transform":[{"filter":"datum.p=='B1'"}],
  "encoding":{"y":{"field":"r","type":"quantitative","scale":{"domain":[-2.6,13],"reverse":true},"axis":null}},
  "layer":[
   {"transform":[{"filter":"datum.t=='o'"}],"mark":{"type":"rule","color":"#c8c8c8","strokeWidth":1.5},"encoding":{"y":{"datum":0.3}}},
   {"transform":[{"filter":"datum.t=='o'"}],"mark":{"type":"rule","color":"#444","strokeWidth":1.2},"encoding":{"x":{"datum":1,"type":"quantitative","scale":{"type":"log","domain":[0.1897,4.0861]},"axis":{"offset":-11,"values":[0.459,1,2.18],"title":null,"labelExpr":"datum.value<1?substring(toString(datum.value),1):toString(datum.value)"}},"y":{"datum":0.3},"y2":{"datum":13}}},
   {"transform":[{"filter":"datum.t=='o'"}],"mark":{"type":"rule","color":"#cc5555","strokeWidth":1,"strokeDash":[2,2]},"encoding":{"x":{"field":"or","type":"quantitative","scale":{"type":"log","domain":[0.1897,4.0861]}},"y":{"datum":0.3},"y2":{"datum":13}}},
   {"transform":[{"filter":"datum.t=='s'"}],"mark":{"type":"rule","color":"#333","strokeWidth":1.3},"encoding":{"x":{"field":"lo","type":"quantitative","scale":{"type":"log","domain":[0.1897,4.0861]}},"x2":{"field":"hi"}}},
   {"transform":[{"filter":"datum.t=='s'"}],"mark":{"type":"point","shape":"square","filled":true,"color":"#b8b8b8","opacity":1},"encoding":{"x":{"field":"or","type":"quantitative","scale":{"type":"log","domain":[0.1897,4.0861]}},"size":{"field":"w","type":"quantitative","scale":{"domain":[0,100],"range":[0,25]},"legend":null}}},
   {"transform":[{"filter":"datum.t=='s'"}],"mark":{"type":"point","shape":"square","filled":true,"color":"#000","size":8,"opacity":1},"encoding":{"x":{"field":"or","type":"quantitative","scale":{"type":"log","domain":[0.1897,4.0861]}}}},
   {"transform":[{"filter":"datum.t=='d'||datum.t=='o'"}],"mark":{"type":"rule","color":"#27338c","strokeWidth":1.3,"y2Offset":-6.5},"encoding":{"x":{"field":"lo","type":"quantitative","scale":{"type":"log","domain":[0.1897,4.0861]}},"x2":{"field":"or"},"y2":{"field":"r"}}},
   {"transform":[{"filter":"datum.t=='d'||datum.t=='o'"}],"mark":{"type":"rule","color":"#27338c","strokeWidth":1.3,"yOffset":-6.5},"encoding":{"x":{"field":"or","type":"quantitative","scale":{"type":"log","domain":[0.1897,4.0861]}},"x2":{"field":"hi"},"y2":{"field":"r"}}},
   {"transform":[{"filter":"datum.t=='d'||datum.t=='o'"}],"mark":{"type":"rule","color":"#27338c","strokeWidth":1.3,"y2Offset":6.5},"encoding":{"x":{"field":"lo","type":"quantitative","scale":{"type":"log","domain":[0.1897,4.0861]}},"x2":{"field":"or"},"y2":{"field":"r"}}},
   {"transform":[{"filter":"datum.t=='d'||datum.t=='o'"}],"mark":{"type":"rule","color":"#27338c","strokeWidth":1.3,"yOffset":6.5},"encoding":{"x":{"field":"or","type":"quantitative","scale":{"type":"log","domain":[0.1897,4.0861]}},"x2":{"field":"hi"},"y2":{"field":"r"}}},
   {"transform":[{"filter":"isValid(datum.n)"}],"mark":{"type":"text","align":"left","fontSize":5.6},"encoding":{"x":{"datum":0.1974,"type":"quantitative","scale":{"type":"log","domain":[0.1897,4.0861]}},"text":{"field":"n"}}},
   {"transform":[{"filter":"isValid(datum.ci)"}],"mark":{"type":"text","align":"left","fontSize":5.6},"encoding":{"x":{"datum":2.2684,"type":"quantitative","scale":{"type":"log","domain":[0.1897,4.0861]}},"text":{"field":"ci"}}},
   {"transform":[{"filter":"isValid(datum.wh)"}],"mark":{"type":"text","align":"left","fontSize":5.6},"encoding":{"x":{"datum":3.43,"type":"quantitative","scale":{"type":"log","domain":[0.1897,4.0861]}},"text":{"field":"wh"}}},
   {"transform":[{"filter":"isValid(datum.w)"}],"mark":{"type":"text","align":"left","fontSize":5.6},"encoding":{"x":{"datum":3.43,"type":"quantitative","scale":{"type":"log","domain":[0.1897,4.0861]}},"text":{"field":"w","type":"quantitative","format":".2f"}}}
  ]},
 {"title":{"text":"CA+AA vs. CC","offset":7.5},"width":386,"height":253,
  "transform":[{"filter":"datum.p=='B2'"}],
  "encoding":{"y":{"field":"r","type":"quantitative","scale":{"domain":[-2.6,13],"reverse":true},"axis":null}},
  "layer":[
   {"transform":[{"filter":"datum.t=='o'"}],"mark":{"type":"rule","color":"#c8c8c8","strokeWidth":1.5},"encoding":{"y":{"datum":0.3}}},
   {"transform":[{"filter":"datum.t=='o'"}],"mark":{"type":"rule","color":"#444","strokeWidth":1.2},"encoding":{"x":{"datum":1,"type":"quantitative","scale":{"type":"log","domain":[0.2345,4.0797]},"axis":{"offset":-11,"values":[0.488,1,2.05],"title":null,"labelExpr":"datum.value<1?substring(toString(datum.value),1):toString(datum.value)"}},"y":{"datum":0.3},"y2":{"datum":13}}},
   {"transform":[{"filter":"datum.t=='o'"}],"mark":{"type":"rule","color":"#cc5555","strokeWidth":1,"strokeDash":[2,2]},"encoding":{"x":{"field":"or","type":"quantitative","scale":{"type":"log","domain":[0.2345,4.0797]}},"y":{"datum":0.3},"y2":{"datum":13}}},
   {"transform":[{"filter":"datum.t=='s'"}],"mark":{"type":"rule","color":"#333","strokeWidth":1.3},"encoding":{"x":{"field":"lo","type":"quantitative","scale":{"type":"log","domain":[0.2345,4.0797]}},"x2":{"field":"hi"}}},
   {"transform":[{"filter":"datum.t=='s'"}],"mark":{"type":"point","shape":"square","filled":true,"color":"#b8b8b8","opacity":1},"encoding":{"x":{"field":"or","type":"quantitative","scale":{"type":"log","domain":[0.2345,4.0797]}},"size":{"field":"w","type":"quantitative","scale":{"domain":[0,100],"range":[0,30]},"legend":null}}},
   {"transform":[{"filter":"datum.t=='s'"}],"mark":{"type":"point","shape":"square","filled":true,"color":"#000","size":8,"opacity":1},"encoding":{"x":{"field":"or","type":"quantitative","scale":{"type":"log","domain":[0.2345,4.0797]}}}},
   {"transform":[{"filter":"datum.t=='d'||datum.t=='o'"}],"mark":{"type":"rule","color":"#27338c","strokeWidth":1.3,"y2Offset":-6.5},"encoding":{"x":{"field":"lo","type":"quantitative","scale":{"type":"log","domain":[0.2345,4.0797]}},"x2":{"field":"or"},"y2":{"field":"r"}}},
   {"transform":[{"filter":"datum.t=='d'||datum.t=='o'"}],"mark":{"type":"rule","color":"#27338c","strokeWidth":1.3,"yOffset":-6.5},"encoding":{"x":{"field":"or","type":"quantitative","scale":{"type":"log","domain":[0.2345,4.0797]}},"x2":{"field":"hi"},"y2":{"field":"r"}}},
   {"transform":[{"filter":"datum.t=='d'||datum.t=='o'"}],"mark":{"type":"rule","color":"#27338c","strokeWidth":1.3,"y2Offset":6.5},"encoding":{"x":{"field":"lo","type":"quantitative","scale":{"type":"log","domain":[0.2345,4.0797]}},"x2":{"field":"or"},"y2":{"field":"r"}}},
   {"transform":[{"filter":"datum.t=='d'||datum.t=='o'"}],"mark":{"type":"rule","color":"#27338c","strokeWidth":1.3,"yOffset":6.5},"encoding":{"x":{"field":"or","type":"quantitative","scale":{"type":"log","domain":[0.2345,4.0797]}},"x2":{"field":"hi"},"y2":{"field":"r"}}},
   {"transform":[{"filter":"isValid(datum.n)"}],"mark":{"type":"text","align":"left","fontSize":7},"encoding":{"x":{"datum":0.2469,"type":"quantitative","scale":{"type":"log","domain":[0.2345,4.0797]}},"text":{"field":"n"}}},
   {"transform":[{"filter":"isValid(datum.ci)"}],"mark":{"type":"text","align":"left","fontSize":7},"encoding":{"x":{"datum":2.1272,"type":"quantitative","scale":{"type":"log","domain":[0.2345,4.0797]}},"text":{"field":"ci"}}},
   {"transform":[{"filter":"isValid(datum.wh)"}],"mark":{"type":"text","align":"left","fontSize":7},"encoding":{"x":{"datum":3.2918,"type":"quantitative","scale":{"type":"log","domain":[0.2345,4.0797]}},"text":{"field":"wh"}}},
   {"transform":[{"filter":"isValid(datum.w)"}],"mark":{"type":"text","align":"left","fontSize":7},"encoding":{"x":{"datum":3.2918,"type":"quantitative","scale":{"type":"log","domain":[0.2345,4.0797]}},"text":{"field":"w","type":"quantitative","format":".2f"}}}
  ]},
 {"title":{"text":"AA vs. CC+CA","offset":9.5},"width":386,"height":253,
  "transform":[{"filter":"datum.p=='B3'"}],
  "encoding":{"y":{"field":"r","type":"quantitative","scale":{"domain":[-2.6,13],"reverse":true},"axis":null}},
  "layer":[
   {"transform":[{"filter":"datum.t=='o'"}],"mark":{"type":"rule","color":"#c8c8c8","strokeWidth":1.5},"encoding":{"y":{"datum":0.3}}},
   {"transform":[{"filter":"datum.t=='o'"}],"mark":{"type":"rule","color":"#444","strokeWidth":1.2},"encoding":{"x":{"datum":1,"type":"quantitative","scale":{"type":"log","domain":[0.00984,92.41]},"axis":{"offset":-11,"values":[0.098,1,10.2],"title":null,"labelExpr":"datum.value<1?substring(toString(datum.value),1):toString(datum.value)"}},"y":{"datum":0.3},"y2":{"datum":13}}},
   {"transform":[{"filter":"datum.t=='o'"}],"mark":{"type":"rule","color":"#cc5555","strokeWidth":1,"strokeDash":[2,2]},"encoding":{"x":{"field":"or","type":"quantitative","scale":{"type":"log","domain":[0.00984,92.41]}},"y":{"datum":0.3},"y2":{"datum":13}}},
   {"transform":[{"filter":"datum.t=='s'"}],"mark":{"type":"rule","color":"#333","strokeWidth":1.3},"encoding":{"x":{"field":"lo","type":"quantitative","scale":{"type":"log","domain":[0.00984,92.41]}},"x2":{"field":"hi"}}},
   {"transform":[{"filter":"datum.t=='s'"}],"mark":{"type":"point","shape":"square","filled":true,"color":"#b8b8b8","opacity":1},"encoding":{"x":{"field":"or","type":"quantitative","scale":{"type":"log","domain":[0.00984,92.41]}},"size":{"field":"w","type":"quantitative","scale":{"domain":[0,100],"range":[0,35]},"legend":null}}},
   {"transform":[{"filter":"datum.t=='s'"}],"mark":{"type":"point","shape":"square","filled":true,"color":"#000","size":8,"opacity":1},"encoding":{"x":{"field":"or","type":"quantitative","scale":{"type":"log","domain":[0.00984,92.41]}}}},
   {"transform":[{"filter":"datum.n=='Paul Lochhead (2011)'"}],"mark":{"type":"point","shape":"M1.2,-1L0,0L1.2,1","filled":false,"color":"#222","strokeWidth":1.2,"size":81,"opacity":1},"encoding":{"x":{"field":"lo","type":"quantitative","scale":{"type":"log","domain":[0.00984,92.41]}}}},
   {"transform":[{"filter":"datum.t=='d'||datum.t=='o'"}],"mark":{"type":"rule","color":"#27338c","strokeWidth":1.3,"y2Offset":-6.5},"encoding":{"x":{"field":"lo","type":"quantitative","scale":{"type":"log","domain":[0.00984,92.41]}},"x2":{"field":"or"},"y2":{"field":"r"}}},
   {"transform":[{"filter":"datum.t=='d'||datum.t=='o'"}],"mark":{"type":"rule","color":"#27338c","strokeWidth":1.3,"yOffset":-6.5},"encoding":{"x":{"field":"or","type":"quantitative","scale":{"type":"log","domain":[0.00984,92.41]}},"x2":{"field":"hi"},"y2":{"field":"r"}}},
   {"transform":[{"filter":"datum.t=='d'||datum.t=='o'"}],"mark":{"type":"rule","color":"#27338c","strokeWidth":1.3,"y2Offset":6.5},"encoding":{"x":{"field":"lo","type":"quantitative","scale":{"type":"log","domain":[0.00984,92.41]}},"x2":{"field":"or"},"y2":{"field":"r"}}},
   {"transform":[{"filter":"datum.t=='d'||datum.t=='o'"}],"mark":{"type":"rule","color":"#27338c","strokeWidth":1.3,"yOffset":6.5},"encoding":{"x":{"field":"or","type":"quantitative","scale":{"type":"log","domain":[0.00984,92.41]}},"x2":{"field":"hi"},"y2":{"field":"r"}}},
   {"transform":[{"filter":"isValid(datum.n)"}],"mark":{"type":"text","align":"left","fontSize":7.7},"encoding":{"x":{"datum":0.01162,"type":"quantitative","scale":{"type":"log","domain":[0.00984,92.41]}},"text":{"field":"n"}}},
   {"transform":[{"filter":"isValid(datum.ci)"}],"mark":{"type":"text","align":"left","fontSize":7.7},"encoding":{"x":{"datum":11.215,"type":"quantitative","scale":{"type":"log","domain":[0.00984,92.41]}},"text":{"field":"ci"}}},
   {"transform":[{"filter":"isValid(datum.wh)"}],"mark":{"type":"text","align":"left","fontSize":7.7},"encoding":{"x":{"datum":46.47,"type":"quantitative","scale":{"type":"log","domain":[0.00984,92.41]}},"text":{"field":"wh"}}},
   {"transform":[{"filter":"isValid(datum.w)"}],"mark":{"type":"text","align":"left","fontSize":7.7},"encoding":{"x":{"datum":46.47,"type":"quantitative","scale":{"type":"log","domain":[0.00984,92.41]}},"text":{"field":"w","type":"quantitative","format":".2f"}}}
  ]},
 {"title":{"text":"AA vs. CC","offset":0},"width":386,"height":282,
  "transform":[{"filter":"datum.p=='B4'"}],
  "encoding":{"y":{"field":"r","type":"quantitative","scale":{"domain":[-2.6,13],"reverse":true},"axis":null}},
  "layer":[
   {"transform":[{"filter":"datum.t=='o'"}],"mark":{"type":"rule","color":"#c8c8c8","strokeWidth":1.5},"encoding":{"y":{"datum":0.3}}},
   {"transform":[{"filter":"datum.t=='o'"}],"mark":{"type":"rule","color":"#444","strokeWidth":1.2},"encoding":{"x":{"datum":1,"type":"quantitative","scale":{"type":"log","domain":[0.009221,108.45]},"axis":{"offset":-11,"values":[0.0928,1,10.8],"title":null,"labelExpr":"datum.value<1?substring(toString(datum.value),1):toString(datum.value)"}},"y":{"datum":0.3},"y2":{"datum":13}}},
   {"transform":[{"filter":"datum.t=='o'"}],"mark":{"type":"rule","color":"#cc5555","strokeWidth":1,"strokeDash":[2,2]},"encoding":{"x":{"field":"or","type":"quantitative","scale":{"type":"log","domain":[0.009221,108.45]}},"y":{"datum":0.3},"y2":{"datum":13}}},
   {"transform":[{"filter":"datum.t=='s'"}],"mark":{"type":"rule","color":"#333","strokeWidth":1.3},"encoding":{"x":{"field":"lo","type":"quantitative","scale":{"type":"log","domain":[0.009221,108.45]}},"x2":{"field":"hi"}}},
   {"transform":[{"filter":"datum.t=='s'"}],"mark":{"type":"point","shape":"square","filled":true,"color":"#b8b8b8","opacity":1},"encoding":{"x":{"field":"or","type":"quantitative","scale":{"type":"log","domain":[0.009221,108.45]}},"size":{"field":"w","type":"quantitative","scale":{"domain":[0,100],"range":[0,35]},"legend":null}}},
   {"transform":[{"filter":"datum.t=='s'"}],"mark":{"type":"point","shape":"square","filled":true,"color":"#000","size":8,"opacity":1},"encoding":{"x":{"field":"or","type":"quantitative","scale":{"type":"log","domain":[0.009221,108.45]}}}},
   {"transform":[{"filter":"datum.t=='d'||datum.t=='o'"}],"mark":{"type":"rule","color":"#27338c","strokeWidth":1.3,"y2Offset":-7.5},"encoding":{"x":{"field":"lo","type":"quantitative","scale":{"type":"log","domain":[0.009221,108.45]}},"x2":{"field":"or"},"y2":{"field":"r"}}},
   {"transform":[{"filter":"datum.t=='d'||datum.t=='o'"}],"mark":{"type":"rule","color":"#27338c","strokeWidth":1.3,"yOffset":-7.5},"encoding":{"x":{"field":"or","type":"quantitative","scale":{"type":"log","domain":[0.009221,108.45]}},"x2":{"field":"hi"},"y2":{"field":"r"}}},
   {"transform":[{"filter":"datum.t=='d'||datum.t=='o'"}],"mark":{"type":"rule","color":"#27338c","strokeWidth":1.3,"y2Offset":7.5},"encoding":{"x":{"field":"lo","type":"quantitative","scale":{"type":"log","domain":[0.009221,108.45]}},"x2":{"field":"or"},"y2":{"field":"r"}}},
   {"transform":[{"filter":"datum.t=='d'||datum.t=='o'"}],"mark":{"type":"rule","color":"#27338c","strokeWidth":1.3,"yOffset":7.5},"encoding":{"x":{"field":"or","type":"quantitative","scale":{"type":"log","domain":[0.009221,108.45]}},"x2":{"field":"hi"},"y2":{"field":"r"}}},
   {"transform":[{"filter":"isValid(datum.n)"}],"mark":{"type":"text","align":"left","fontSize":6.8},"encoding":{"x":{"datum":0.009916,"type":"quantitative","scale":{"type":"log","domain":[0.009221,108.45]}},"text":{"field":"n"}}},
   {"transform":[{"filter":"isValid(datum.ci)"}],"mark":{"type":"text","align":"left","fontSize":6.8},"encoding":{"x":{"datum":11.9,"type":"quantitative","scale":{"type":"log","domain":[0.009221,108.45]}},"text":{"field":"ci"}}},
   {"transform":[{"filter":"isValid(datum.wh)"}],"mark":{"type":"text","align":"left","fontSize":6.8},"encoding":{"x":{"datum":51.08,"type":"quantitative","scale":{"type":"log","domain":[0.009221,108.45]}},"text":{"field":"wh"}}},
   {"transform":[{"filter":"isValid(datum.w)"}],"mark":{"type":"text","align":"left","fontSize":6.8},"encoding":{"x":{"datum":51.08,"type":"quantitative","scale":{"type":"log","domain":[0.009221,108.45]}},"text":{"field":"w","type":"quantitative","format":".2f"}}}
  ]},
 {"title":{"text":"CA vs. CC","offset":1.5},"width":386,"height":282,
  "transform":[{"filter":"datum.p=='B5'"}],
  "encoding":{"y":{"field":"r","type":"quantitative","scale":{"domain":[-2.6,13],"reverse":true},"axis":null}},
  "layer":[
   {"transform":[{"filter":"datum.t=='o'"}],"mark":{"type":"rule","color":"#c8c8c8","strokeWidth":1.5},"encoding":{"y":{"datum":0.3}}},
   {"transform":[{"filter":"datum.t=='o'"}],"mark":{"type":"rule","color":"#444","strokeWidth":1.2},"encoding":{"x":{"datum":1,"type":"quantitative","scale":{"type":"log","domain":[0.25058,3.7216]},"axis":{"offset":-11,"values":[0.507,1,1.97],"title":null,"labelExpr":"datum.value<1?substring(toString(datum.value),1):toString(datum.value)"}},"y":{"datum":0.3},"y2":{"datum":13}}},
   {"transform":[{"filter":"datum.t=='o'"}],"mark":{"type":"rule","color":"#cc5555","strokeWidth":1,"strokeDash":[2,2]},"encoding":{"x":{"field":"or","type":"quantitative","scale":{"type":"log","domain":[0.25058,3.7216]}},"y":{"datum":0.3},"y2":{"datum":13}}},
   {"transform":[{"filter":"datum.t=='s'"}],"mark":{"type":"rule","color":"#333","strokeWidth":1.3},"encoding":{"x":{"field":"lo","type":"quantitative","scale":{"type":"log","domain":[0.25058,3.7216]}},"x2":{"field":"hi"}}},
   {"transform":[{"filter":"datum.t=='s'"}],"mark":{"type":"point","shape":"square","filled":true,"color":"#b8b8b8","opacity":1},"encoding":{"x":{"field":"or","type":"quantitative","scale":{"type":"log","domain":[0.25058,3.7216]}},"size":{"field":"w","type":"quantitative","scale":{"domain":[0,100],"range":[0,35]},"legend":null}}},
   {"transform":[{"filter":"datum.t=='s'"}],"mark":{"type":"point","shape":"square","filled":true,"color":"#000","size":8,"opacity":1},"encoding":{"x":{"field":"or","type":"quantitative","scale":{"type":"log","domain":[0.25058,3.7216]}}}},
   {"transform":[{"filter":"datum.n=='Paul Lochhead (2011)'"}],"mark":{"type":"point","shape":"M1.2,-1L0,0L1.2,1","filled":false,"color":"#222","strokeWidth":1.2,"size":81,"opacity":1},"encoding":{"x":{"field":"lo","type":"quantitative","scale":{"type":"log","domain":[0.25058,3.7216]}}}},
   {"transform":[{"filter":"datum.t=='d'||datum.t=='o'"}],"mark":{"type":"rule","color":"#27338c","strokeWidth":1.3,"y2Offset":-7.5},"encoding":{"x":{"field":"lo","type":"quantitative","scale":{"type":"log","domain":[0.25058,3.7216]}},"x2":{"field":"or"},"y2":{"field":"r"}}},
   {"transform":[{"filter":"datum.t=='d'||datum.t=='o'"}],"mark":{"type":"rule","color":"#27338c","strokeWidth":1.3,"yOffset":-7.5},"encoding":{"x":{"field":"or","type":"quantitative","scale":{"type":"log","domain":[0.25058,3.7216]}},"x2":{"field":"hi"},"y2":{"field":"r"}}},
   {"transform":[{"filter":"datum.t=='d'||datum.t=='o'"}],"mark":{"type":"rule","color":"#27338c","strokeWidth":1.3,"y2Offset":7.5},"encoding":{"x":{"field":"lo","type":"quantitative","scale":{"type":"log","domain":[0.25058,3.7216]}},"x2":{"field":"or"},"y2":{"field":"r"}}},
   {"transform":[{"filter":"datum.t=='d'||datum.t=='o'"}],"mark":{"type":"rule","color":"#27338c","strokeWidth":1.3,"yOffset":7.5},"encoding":{"x":{"field":"or","type":"quantitative","scale":{"type":"log","domain":[0.25058,3.7216]}},"x2":{"field":"hi"},"y2":{"field":"r"}}},
   {"transform":[{"filter":"isValid(datum.n)"}],"mark":{"type":"text","align":"left","fontSize":6.7},"encoding":{"x":{"datum":0.25587,"type":"quantitative","scale":{"type":"log","domain":[0.25058,3.7216]}},"text":{"field":"n"}}},
   {"transform":[{"filter":"isValid(datum.ci)"}],"mark":{"type":"text","align":"left","fontSize":6.7},"encoding":{"x":{"datum":2.04,"type":"quantitative","scale":{"type":"log","domain":[0.25058,3.7216]}},"text":{"field":"ci"}}},
   {"transform":[{"filter":"isValid(datum.wh)"}],"mark":{"type":"text","align":"left","fontSize":6.7},"encoding":{"x":{"datum":3.0386,"type":"quantitative","scale":{"type":"log","domain":[0.25058,3.7216]}},"text":{"field":"wh"}}},
   {"transform":[{"filter":"isValid(datum.w)"}],"mark":{"type":"text","align":"left","fontSize":6.7},"encoding":{"x":{"datum":3.0386,"type":"quantitative","scale":{"type":"log","domain":[0.25058,3.7216]}},"text":{"field":"w","type":"quantitative","format":".2f"}}}
  ]}
 ]}
],
"config":{
 "view":{"stroke":null},
 "font":"Liberation Sans",
 "title":{"fontSize":26,"fontWeight":"normal","color":"#000","font":"Liberation Sans"},
 "axisX":{"domainColor":"#444","domainWidth":1.5,"tickColor":"#444","tickWidth":1.2,"tickSize":4,"labelFontSize":7.5,"labelColor":"#333","labelPadding":2,"grid":false,"labelFlush":false,"labelOverlap":false},
 "text":{"baseline":"middle","color":"#333"}
}
}
